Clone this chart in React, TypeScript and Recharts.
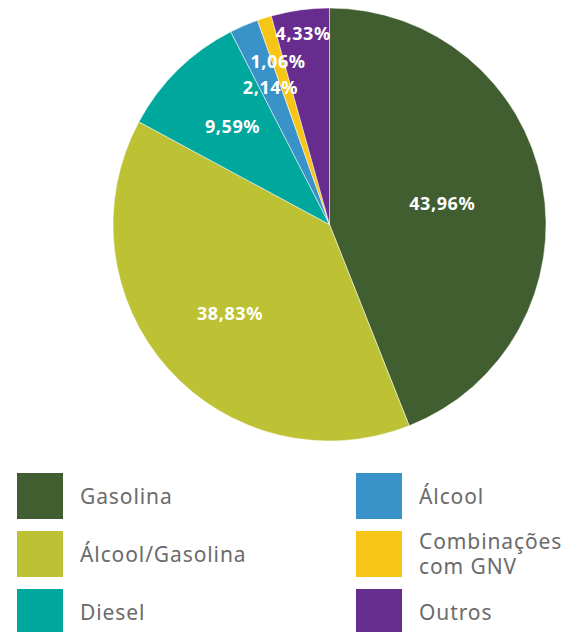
import { PieChart, Pie, Cell } from 'recharts';

// categories and shares (%), clockwise from 12 o'clock
const categories = ['Gasolina', 'Álcool/Gasolina', 'Diesel', 'Álcool', 'Combinações\ncom GNV', 'Outros'];
const shares = [43.96, 38.83, 9.59, 2.14, 1.06, 4.33];
const labels = ['43,96%', '38,83%', '9,59%', '2,14%', '1,06%', '4,33%'];

const COLORS = ['#405e2f', '#bcc234', '#00a79c', '#3a93c8', '#f7c516', '#662d8f'];
// label distance from centre, as fraction of the outer radius
const LABEL_POS = [0.53, 0.615, 0.64, 0.69, 0.79, 0.895];

const FONT = '"Noto Sans", "Open Sans", sans-serif';

const data = categories.map((name, i) => ({ name, value: shares[i], label: labels[i] }));

const RADIAN = Math.PI / 180;

const renderLabel = (props: any) => {
    const { cx, cy, midAngle, outerRadius, index } = props;
    const r = outerRadius * LABEL_POS[index];
    const x = cx + r * Math.cos(-midAngle * RADIAN);
    const y = cy + r * Math.sin(-midAngle * RADIAN);
    return (
        <text
            x={x}
            y={y}
            fill="#fff"
            textAnchor="middle"
            dominantBaseline="central"
            style={{ fontFamily: FONT, fontSize: 18, fontWeight: 700, letterSpacing: 0.6 }}
        >
            {data[index].label}
        </text>
    );
};

function LegendItem({ i, left, top }: { i: number; left: number; top: number }) {
    return (
        <div style={{ position: 'absolute', left, top, height: 46, display: 'flex', alignItems: 'center' }}>
            <div style={{ width: 46, height: 46, background: COLORS[i], flexShrink: 0 }} />
            <div
                style={{
                    marginLeft: 17,
                    fontFamily: FONT,
                    fontSize: 21,
                    letterSpacing: 0.9,
                    color: '#6b6b6b',
                    lineHeight: '25px',
                    whiteSpace: 'pre-line',
                }}
            >
                {categories[i]}
            </div>
        </div>
    );
}

export default function App() {
    return (
        <div style={{ position: 'absolute', left: 0, top: 0, width: 574, height: 632, background: '#fff', overflow: 'hidden' }}>
            <PieChart width={574} height={450} margin={{ top: 0, right: 0, bottom: 0, left: 0 }}>
                <Pie
                    data={data}
                    dataKey="value"
                    nameKey="name"
                    cx={329.5}
                    cy={224.5}
                    outerRadius={216.5}
                    startAngle={90}
                    endAngle={-270}
                    stroke="#ffffff"
                    strokeWidth={0.5}
                    label={renderLabel}
                    labelLine={false}
                    isAnimationActive={false}
                >
                    {data.map((d, i) => (
                        <Cell key={d.name} fill={COLORS[i]} />
                    ))}
                </Pie>
            </PieChart>
            <LegendItem i={0} left={17} top={473} />
            <LegendItem i={1} left={17} top={531} />
            <LegendItem i={2} left={17} top={589} />
            <LegendItem i={3} left={356} top={473} />
            <LegendItem i={4} left={356} top={531} />
            <LegendItem i={5} left={356} top={589} />
        </div>
    );
}
